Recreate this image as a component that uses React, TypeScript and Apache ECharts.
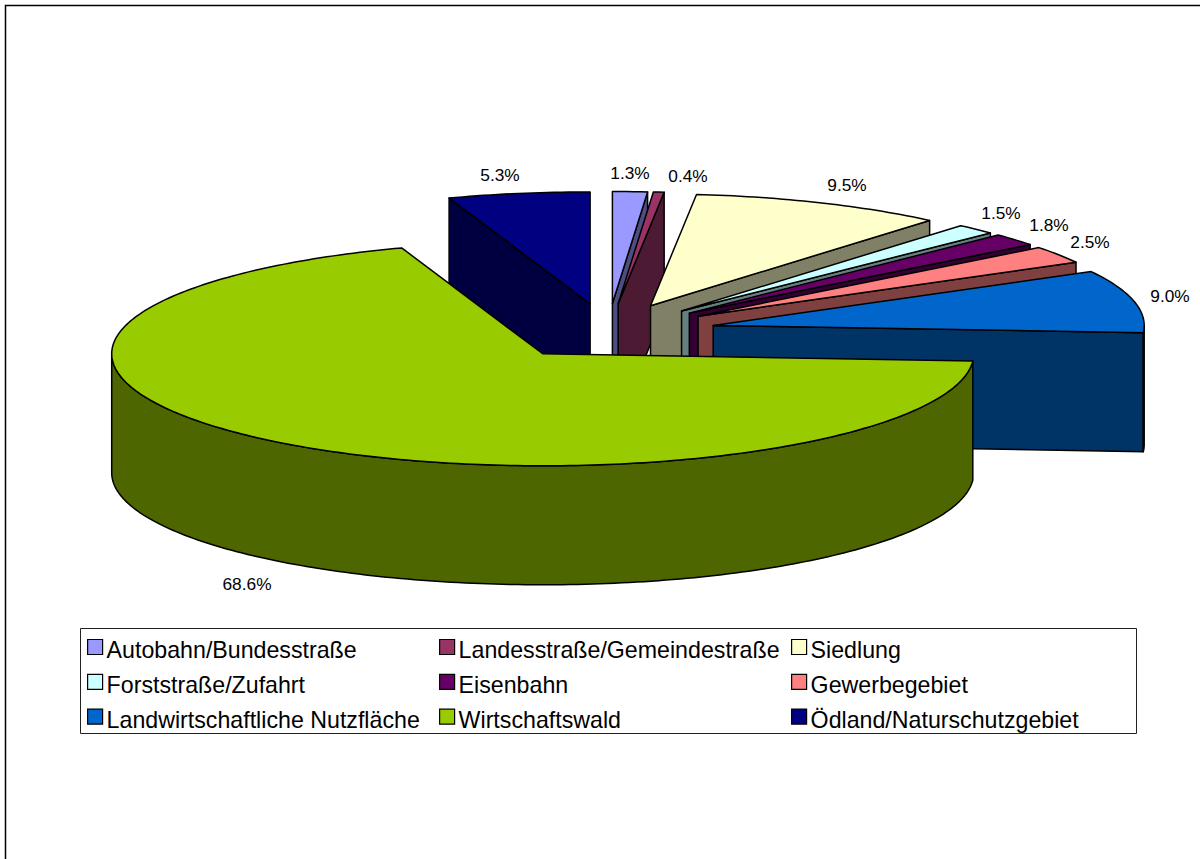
import React, { useEffect, useRef } from "react";
import * as echarts from "echarts";

const categories = [
  "Autobahn/Bundesstraße",
  "Landesstraße/Gemeindestraße",
  "Siedlung",
  "Forststraße/Zufahrt",
  "Eisenbahn",
  "Gewerbegebiet",
  "Landwirtschaftliche Nutzfläche",
  "Wirtschaftswald",
  "Ödland/Naturschutzgebiet",
];
const shares = [1.3, 0.4, 9.5, 1.5, 1.8, 2.5, 9.0, 68.6, 5.3];
const colors = ["#9999FF", "#993366", "#FFFFCC", "#CCFFFF", "#660066", "#FF8080", "#0066CC", "#99CC00", "#000080"];

// Pie projection: centre, ellipse radii, extrusion height and explosion factor.
const CX = 608;
const CY = 331.5;
const RX = 431;
const RY = 112;
const DEPTH = 119;
const EXPLODE = 0.25;

// Percentage label centres, one per slice.
const labelSpots: [number, number][] = [
  [630, 173], [688, 176], [847, 185], [1001, 213], [1049, 225], [1090, 242], [1170, 296], [247, 584], [500, 175],
];

// Layers back to front; the large forest slice sits on top.
const drawOrder = [8, 0, 1, 2, 3, 4, 5, 6, 7];

const total = shares.reduce((a, b) => a + b, 0);

const shade = (hex: string) => {
  const n = parseInt(hex.slice(1), 16);
  const half = (v: number) => Math.round(v / 2);
  return `rgb(${half((n >> 16) & 255)},${half((n >> 8) & 255)},${half(n & 255)})`;
};

function sliceElements(index: number) {
  const start = (shares.slice(0, index).reduce((a, b) => a + b, 0) / total) * Math.PI * 2;
  const end = start + (shares[index] / total) * Math.PI * 2;
  const mid = (start + end) / 2;
  const tipX = CX + Math.sin(mid) * RX * EXPLODE;
  const tipY = CY - Math.cos(mid) * RY * EXPLODE;
  const rim = (a: number): [number, number] => [tipX + Math.sin(a) * RX, tipY - Math.cos(a) * RY];
  const down = (p: number[]): [number, number] => [p[0], p[1] + DEPTH];
  const arc = (a0: number, a1: number) => {
    const steps = Math.max(2, Math.ceil(((a1 - a0) / Math.PI) * 180));
    const pts: [number, number][] = [];
    for (let i = 0; i <= steps; i++) pts.push(rim(a0 + ((a1 - a0) * i) / steps));
    return pts;
  };
  const tip: [number, number] = [tipX, tipY];
  const top = colors[index];
  const side = shade(top);
  const outline = { stroke: "#000", lineWidth: 1.5, lineJoin: "round" };
  const wall = (pts: [number, number][]) => ({
    type: "polygon",
    shape: { points: pts },
    style: { fill: side, ...outline },
  });
  const children: any[] = [];

  if (Math.sin(end) > 0) {
    const p = rim(end);
    children.push(wall([tip, p, down(p), down(tip)]));
  }
  if (Math.sin(start) < 0) {
    const p = rim(start);
    children.push(wall([tip, p, down(p), down(tip)]));
  }
  const frontFrom = Math.max(start, Math.PI / 2);
  const frontTo = Math.min(end, (Math.PI * 3) / 2);
  if (frontTo > frontFrom) {
    const curve = arc(frontFrom, frontTo);
    children.push(wall([...curve, ...curve.slice().reverse().map(down)]));
  }
  children.push({
    type: "polygon",
    shape: { points: [tip, ...arc(start, end)] },
    style: { fill: top, ...outline },
  });
  children.push({
    type: "text",
    x: labelSpots[index][0],
    y: labelSpots[index][1],
    style: {
      text: `${shares[index].toFixed(1)}%`,
      fill: "#000",
      font: "17.3px 'Liberation Sans', Arial, sans-serif",
      align: "center",
      verticalAlign: "middle",
    },
  });
  return { type: "group", children };
}

const legendColumn = (names: string[], left: number) => ({
  show: true,
  orient: "vertical" as const,
  left,
  top: 638.5,
  padding: 0,
  itemWidth: 15,
  itemHeight: 15,
  itemGap: 11.8,
  icon: "rect",
  selectedMode: false,
  data: names,
  formatter: "{t|{name}}",
  itemStyle: { borderColor: "#000", borderWidth: 1.2 },
  textStyle: {
    color: "#000",
    fontFamily: "'Liberation Sans', Arial, sans-serif",
    fontSize: 23.2,
    rich: {
      t: {
        color: "#000",
        fontFamily: "'Liberation Sans', Arial, sans-serif",
        fontSize: 23.2,
        padding: [6, 0, 0, -1],
      },
    },
  },
});

export default function App() {
  const ref = useRef<HTMLDivElement>(null);
  useEffect(() => {
    document.body.style.margin = "0";
    const chart = echarts.init(ref.current!, undefined, { renderer: "svg" });
    chart.setOption({
      animation: false,
      backgroundColor: "#fff",
      legend: [
        legendColumn([categories[0], categories[3], categories[6]], 87),
        legendColumn([categories[1], categories[4], categories[7]], 439),
        legendColumn([categories[2], categories[5], categories[8]], 791),
      ],
      graphic: [
        {
          type: "polyline",
          shape: { points: [[5.5, 859], [5.5, 5.5], [1200, 5.5]] },
          style: { stroke: "#000", lineWidth: 1.5, fill: "none" },
        },
        {
          type: "rect",
          shape: { x: 80.5, y: 628.5, width: 1056, height: 105 },
          style: { stroke: "#222", lineWidth: 1, fill: "none" },
        },
      ],
      series: drawOrder.map((i, order) => ({
        type: "custom",
        name: categories[i],
        coordinateSystem: "none",
        silent: true,
        z: order + 2,
        itemStyle: { color: colors[i] },
        data: [[shares[i]]],
        renderItem: () => sliceElements(i),
      })),
    });
    return () => chart.dispose();
  }, []);
  return <div ref={ref} style={{ position: "absolute", left: 0, top: 0, width: 1200, height: 859 }} />;
}
